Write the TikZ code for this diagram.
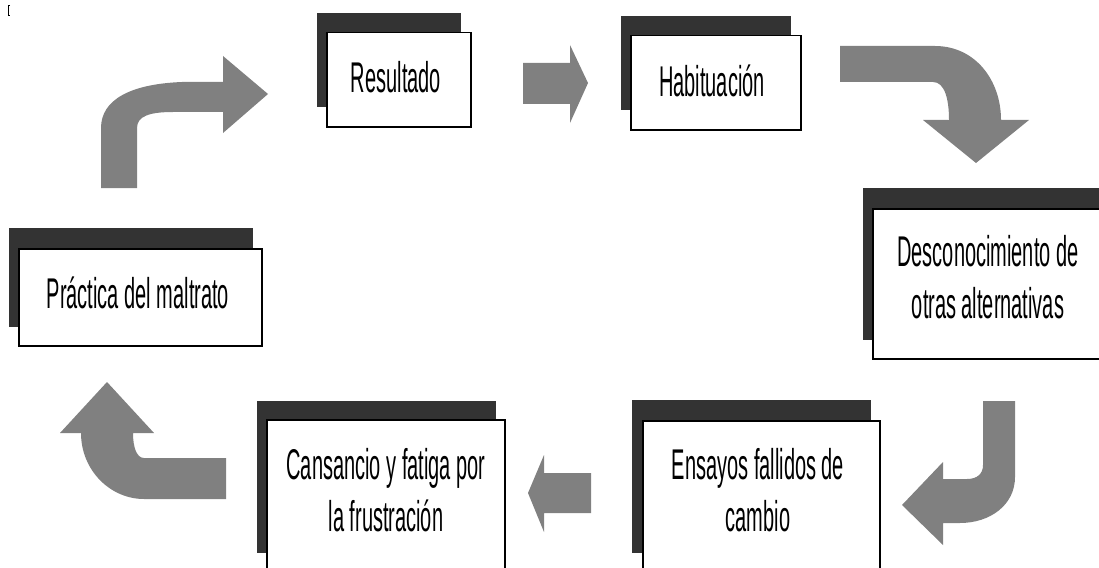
\documentclass[tikz,border=0pt]{standalone}
\usepackage{fontspec}
\newfontfamily\condfont[FakeStretch=0.465]{Liberation Sans}
\definecolor{arrowgray}{RGB}{128,128,128}
\definecolor{shadowgray}{RGB}{51,51,51}
\begin{document}
\begin{tikzpicture}[x=1pt,y=-1pt,
  shadowbox/.style={fill=shadowgray, draw=none},
  whitebox/.style={fill=white, draw=black, line width=1.5pt, inner sep=0pt, anchor=north west},
  boxlabel/.style={font={\condfont\fontsize{43}{52}\selectfont}, inner sep=0pt, align=center},
  arrowshape/.style={fill=arrowgray, draw=none}]
\useasboundingbox (0,0) rectangle (1099,567);
\clip (0,0) rectangle (1099,567);
\fill[white] (0,0) rectangle (1099,567);
% small mark top-left
\draw[line width=0.8pt] (10,5) -- (8,5) -- (8,15) -- (10,15);

% shadows
\fill[shadowbox] (317,13) rectangle (461,107);
\fill[shadowbox] (621,16) rectangle (791,110);
\fill[shadowbox] (863,188) rectangle (1106,340);
\fill[shadowbox] (632,400) rectangle (871,553);
\fill[shadowbox] (257,401) rectangle (496,553);
\fill[shadowbox] (9,228) rectangle (253,327);

% boxes
\node[whitebox, minimum width=144pt, minimum height=94pt] (resbox) at (326,32) {};
\node[whitebox, minimum width=170pt, minimum height=94pt] (habbox) at (630,35) {};
\node[whitebox, minimum width=243pt, minimum height=150pt] (desbox) at (872,208) {};
\node[whitebox, minimum width=237pt, minimum height=152pt] (ensbox) at (642,420) {};
\node[whitebox, minimum width=238pt, minimum height=153pt] (canbox) at (266,419) {};
\node[whitebox, minimum width=243pt, minimum height=97pt] (prabox) at (18,248) {};

% texts
\node[boxlabel, anchor=base] (restext) at (396,93) {Resultado};
\node[boxlabel, anchor=base] (habtext) at (712,97) {Habituación};
\node[boxlabel, anchor=base] (pratext) at (138,308) {Práctica del maltrato};
\node[boxlabel] (destext) at (988,277.5) {Desconocimiento de\\otras alternativas};
\node[boxlabel] (cantext) at (386,490.5) {Cansancio y fatiga por\\la frustración};
\node[boxlabel] (enstext) at (758,490.5) {Ensayos fallidos de\\cambio};

% arrows
% top-left: up then right
\fill[arrowshape] (101,188) -- (101,128) .. controls (101,100) and (130,84) .. (182,82)
  -- (223,82) -- (223,56) -- (268,94) -- (223,133) -- (223,112) -- (173,112)
  .. controls (150,112) and (137,116) .. (137,128) -- (137,188) -- cycle;
% Resultado -> Habituacion
\fill[arrowshape] (523,63) -- (570,63) -- (570,45) -- (588,83) -- (570,123) -- (570,104) -- (523,104) -- cycle;
% top-right: right then down
\fill[arrowshape] (840,46) -- (935,46) .. controls (975,46) and (1001,80) .. (1001,120)
  -- (1029,120) -- (976,163) -- (923,120) -- (949,120)
  .. controls (949,100) and (945,82) .. (933,82) -- (840,82) -- cycle;
% bottom-right: down then left
\fill[arrowshape] (983,401) -- (1015,401) -- (1015,477) .. controls (1015,505) and (990,523) .. (960,523)
  -- (943,523) -- (943,545) -- (902,505) -- (943,462) -- (943,479) -- (967,479)
  .. controls (977,479) and (983,474) .. (983,465) -- cycle;
% Ensayos -> Cansancio
\fill[arrowshape] (591,473) -- (544,473) -- (544,455) -- (528,493) -- (544,532) -- (544,513) -- (591,513) -- cycle;
% bottom-left: left then up
\fill[arrowshape] (226,458) -- (144,458) .. controls (137,458) and (133,448) .. (133,433)
  -- (154,433) -- (107,382) -- (60,433) -- (81,433)
  .. controls (81,470) and (110,499) .. (144,499) -- (226,499) -- cycle;
\end{tikzpicture}
\end{document}
